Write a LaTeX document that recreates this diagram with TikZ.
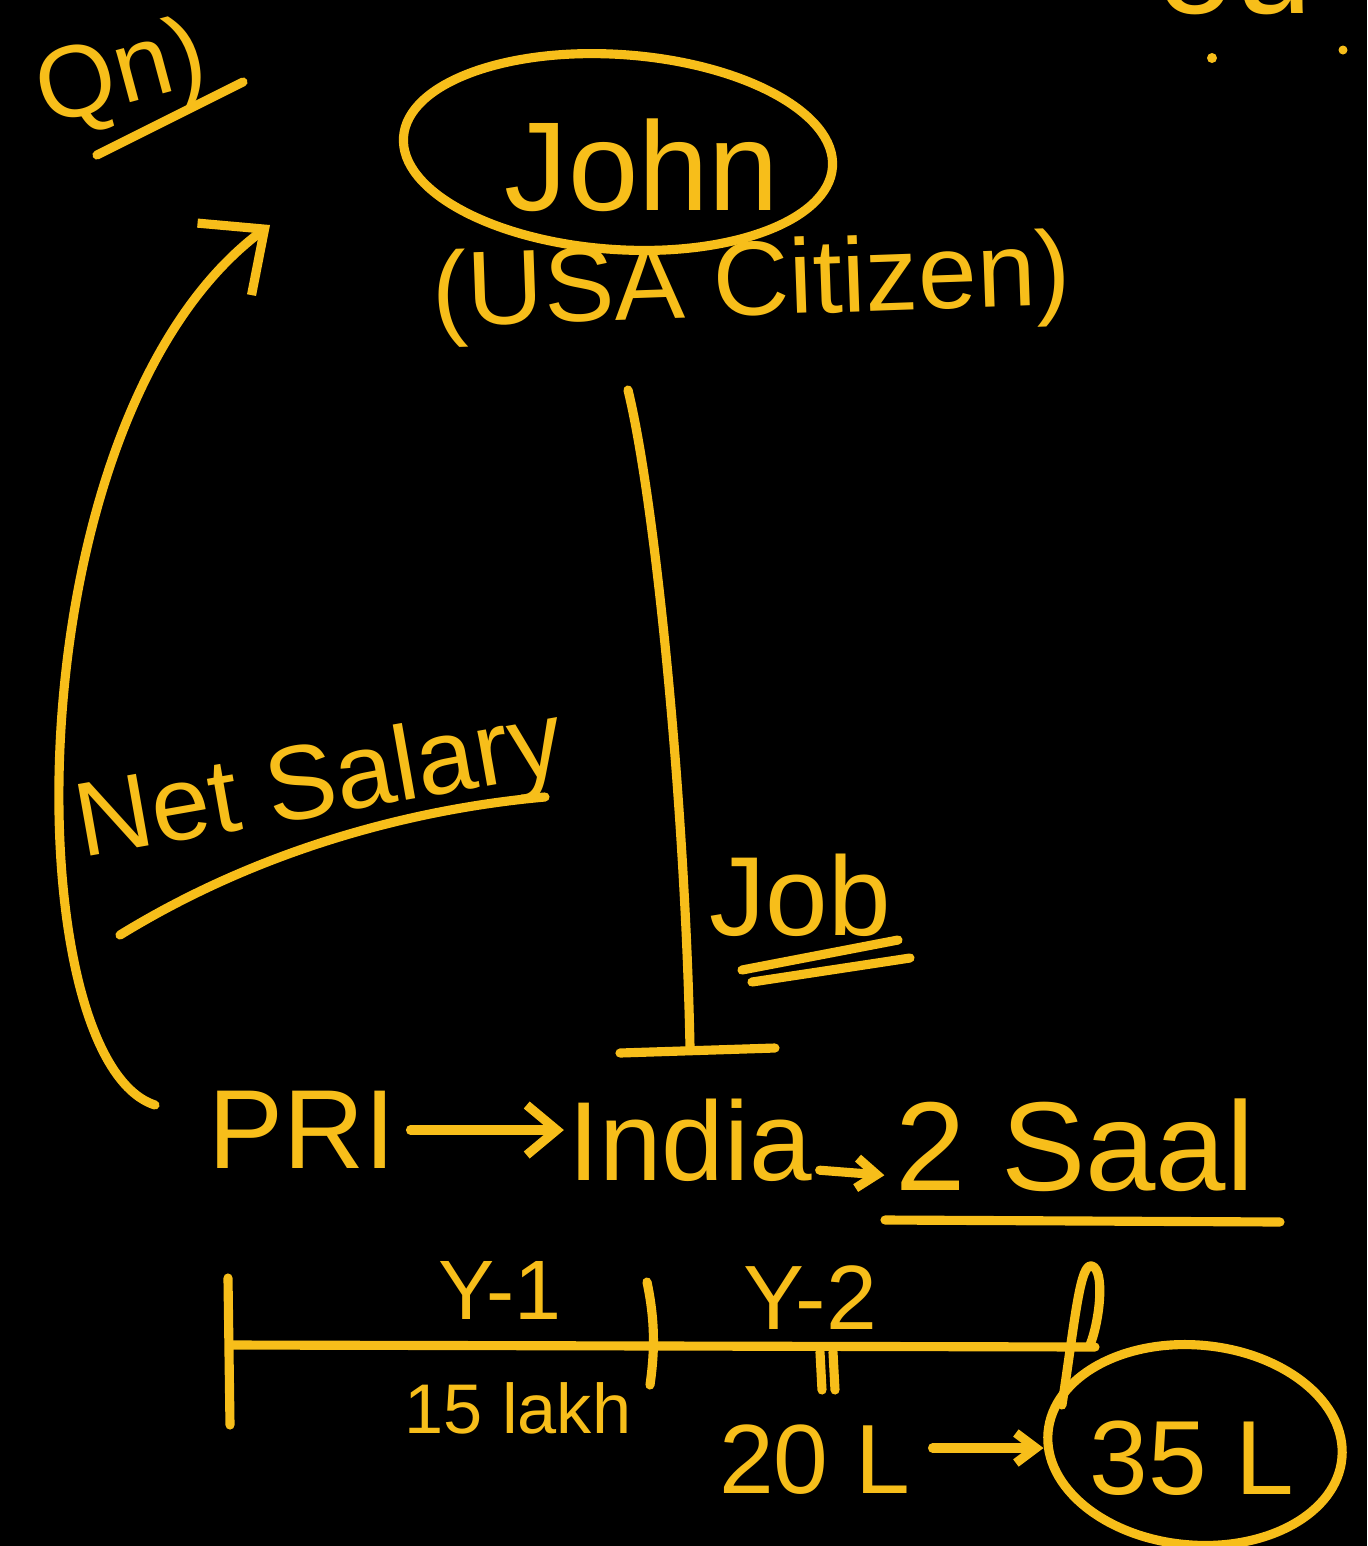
\documentclass[tikz,border=0pt]{standalone}
\usepackage{fontspec}
\setmainfont{Liberation Sans}
\usetikzlibrary{arrows.meta,shapes.geometric,calc}
\definecolor{chalk}{RGB}{247,190,26}
\begin{document}
\begin{tikzpicture}[
  ink/.style={draw=chalk, line width=2.6pt, line cap=round, line join=round},
  txt/.style={text=chalk, inner sep=0pt},
  bigbarb/.style={-{Straight Barb[length=5mm, width=9mm]}},
  midbarb/.style={-{Straight Barb[length=3mm, width=5mm]}},
  smallbarb/.style={-{Straight Barb[length=2mm, width=3mm]}},
  fs/.style={font=\fontsize{#1}{#1}\selectfont}
]
% board
\fill[black] (0,0) rectangle (13.67,-15.46);
\useasboundingbox (0,0) rectangle (13.67,-15.46);

% question label, top left
\node[txt, fs=29, rotate=15] (qn) at (1.22,-0.78) {Qn)};
\draw[ink] (0.97,-1.55) -- (2.43,-0.82);

% remnants of writing at the top edge
\begin{scope}
  \clip (11.2,0) rectangle (13.67,-0.3);
  \node[txt, fs=40, anchor=base] (edge) at (12.35,-0.13) {ou};
\end{scope}
\fill[chalk] (12.12,-0.58) circle (0.05);
\fill[chalk] (13.43,-0.50) circle (0.045);

% John and citizenship
\node[ink, ellipse, minimum width=4.3cm, minimum height=1.95cm, rotate=-4] (johnring) at (6.18,-1.52) {};
\node[txt, fs=36] (john) at (6.42,-1.65) {John};
\node[txt, fs=30, rotate=2] (citizen) at (7.52,-2.88) {(USA Citizen)};

% job link down to India
\coordinate (jobtop) at (6.28,-3.90);
\coordinate (jobfoot) at (6.90,-10.47);
\coordinate (barl) at (6.20,-10.53);
\coordinate (barr) at (7.75,-10.48);
\draw[ink] (jobtop) .. controls (6.55,-5.0) and (6.85,-8.0) .. (jobfoot);
\draw[ink] (barl) -- (barr);
\node[txt, fs=32] (job) at (8.00,-8.95) {Job};
\draw[ink] (7.42,-9.70) -- (8.98,-9.40);
\draw[ink] (7.52,-9.82) -- (9.10,-9.58);

% salary flowing back to John
\node[txt, fs=30, rotate=10] (salary) at (3.20,-7.88) {Net Salary};
\draw[ink] (1.20,-9.35) .. controls (2.5,-8.55) and (4.0,-8.1) .. (5.45,-7.97);
\coordinate (ns) at (1.55,-11.05);
\coordinate (nsend) at (2.70,-2.25);
\draw[ink, bigbarb] (ns) .. controls (0.15,-10.6) and (0.10,-4.2) .. (nsend);

% PRI -> India -> 2 Saal
\node[txt, fs=32] (pri) at (3.02,-11.30) {PRI};
\node[txt, fs=32] (india) at (6.90,-11.40) {India};
\node[txt, fs=36] (saal) at (10.75,-11.45) {2 Saal};
\draw[ink, midbarb] ([xshift=4pt]pri.east) -- ([xshift=-1pt]pri.east -| india.west);
\draw[ink, smallbarb] ([xshift=2pt, yshift=0.1cm]india.base east) -- ([xshift=-3pt, yshift=0.15cm]saal.base west);
\draw[ink] (8.85,-12.20) -- (12.80,-12.22);

% two-year timeline
\coordinate (t0) at (2.30,-13.45);
\coordinate (t1) at (10.95,-13.47);
\draw[ink] (t0) -- (t1);
\draw[ink] (2.28,-12.78) -- (2.30,-14.25);
\draw[ink] (6.47,-12.82) .. controls (6.55,-13.2) and (6.55,-13.5) .. (6.50,-13.85);
\draw[ink] (10.62,-14.05) .. controls (10.75,-13.2) and (10.80,-12.62) .. (10.92,-12.66)
           .. controls (11.05,-12.7) and (11.0,-13.2) .. (10.90,-13.45);
\node[txt, fs=24] (y1) at (5.00,-12.90) {Y-1};
\node[txt, fs=26] (y2) at (8.10,-12.98) {Y-2};
\node[txt, fs=20] (lakh) at (5.18,-14.08) {15 lakh};
\draw[ink] (8.20,-13.52) -- (8.22,-13.90);
\draw[ink] (8.33,-13.52) -- (8.35,-13.90);
\node[txt, fs=28] (twenty) at (8.15,-14.60) {20 L};
\node[ink, ellipse, minimum width=2.95cm, minimum height=2.0cm, rotate=-5] (ring) at (11.95,-14.45) {};
\node[txt, fs=30] (total) at (11.92,-14.58) {35 L};
\draw[ink, smallbarb] ([xshift=6pt, yshift=0.12cm]twenty.east) -- ([yshift=0.12cm]twenty.east -| ring.west);
\end{tikzpicture}
\end{document}
